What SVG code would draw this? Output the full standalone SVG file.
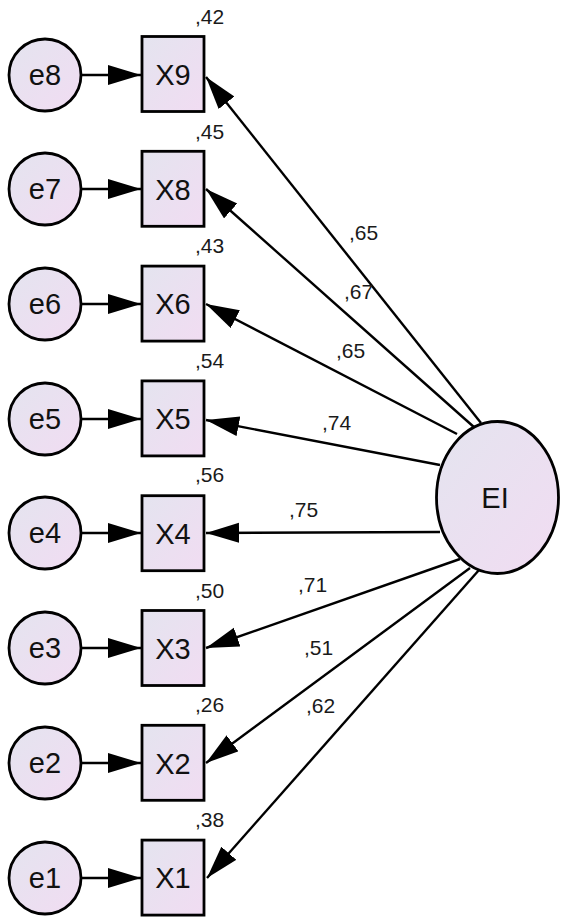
<svg xmlns="http://www.w3.org/2000/svg" width="567" height="923" viewBox="0 0 567 923">
  <defs>
    <linearGradient id="fillGrad" x1="0" y1="0" x2="1" y2="1">
      <stop offset="0" stop-color="#e4e4ef"/>
      <stop offset="1" stop-color="#f1dcf2"/>
    </linearGradient>
    <marker id="arrow" markerUnits="userSpaceOnUse" markerWidth="34" markerHeight="22" refX="33" refY="10" orient="auto">
      <path d="M0,0 L33,10 L0,20 Z" fill="#000"/>
    </marker>
  </defs>
  <style>
    .node { fill: url(#fillGrad); stroke: #000; stroke-width: 2.8; }
    .lbl { font-family: "Liberation Sans", Arial, sans-serif; font-size: 29px; fill: #111; text-anchor: middle; }
    .val { font-family: "Liberation Sans", Arial, sans-serif; font-size: 21px; fill: #1a1a1a; }
    .edge { stroke: #000; stroke-width: 2.4; fill: none; marker-end: url(#arrow); }
  </style>
  <rect width="567" height="923" fill="#fff"/>

  <!-- paths: errors to indicators, factor EI to indicators -->
  <g id="connectors">
    <line class="edge" x1="81" y1="75" x2="141" y2="75"/>
    <line class="edge" x1="81" y1="189" x2="141" y2="189"/>
    <line class="edge" x1="81" y1="304" x2="141" y2="304"/>
    <line class="edge" x1="81" y1="419" x2="141" y2="419"/>
    <line class="edge" x1="81" y1="533" x2="141" y2="533"/>
    <line class="edge" x1="81" y1="648" x2="141" y2="648"/>
    <line class="edge" x1="81" y1="763" x2="141" y2="763"/>
    <line class="edge" x1="81" y1="878" x2="141" y2="878"/>

    <line class="edge" x1="481" y1="423" x2="206" y2="77"/>
    <line class="edge" x1="475" y1="428" x2="206" y2="189"/>
    <line class="edge" x1="457" y1="434" x2="206" y2="304"/>
    <line class="edge" x1="440" y1="465" x2="206" y2="420"/>
    <line class="edge" x1="440" y1="532" x2="206" y2="533"/>
    <line class="edge" x1="460" y1="559" x2="206" y2="648"/>
    <line class="edge" x1="470" y1="568" x2="206" y2="763"/>
    <line class="edge" x1="479" y1="570" x2="207" y2="878"/>

    <text class="val" x="349" y="240">,65</text>
    <text class="val" x="344" y="299">,67</text>
    <text class="val" x="336" y="358">,65</text>
    <text class="val" x="322" y="430">,74</text>
    <text class="val" x="289" y="517">,75</text>
    <text class="val" x="298" y="592">,71</text>
    <text class="val" x="304" y="655">,51</text>
    <text class="val" x="306" y="713">,62</text>
  </g>

  <!-- error terms -->
  <g id="e8"><circle class="node" cx="45" cy="75" r="36"/><text class="lbl" x="45" y="85">e8</text></g>
  <g id="e7"><circle class="node" cx="45" cy="189" r="36"/><text class="lbl" x="45" y="199">e7</text></g>
  <g id="e6"><circle class="node" cx="45" cy="304" r="36"/><text class="lbl" x="45" y="314">e6</text></g>
  <g id="e5"><circle class="node" cx="45" cy="419" r="36"/><text class="lbl" x="45" y="429">e5</text></g>
  <g id="e4"><circle class="node" cx="45" cy="533" r="36"/><text class="lbl" x="45" y="543">e4</text></g>
  <g id="e3"><circle class="node" cx="45" cy="648" r="36"/><text class="lbl" x="45" y="658">e3</text></g>
  <g id="e2"><circle class="node" cx="45" cy="763" r="36"/><text class="lbl" x="45" y="773">e2</text></g>
  <g id="e1"><circle class="node" cx="45" cy="878" r="36"/><text class="lbl" x="45" y="888">e1</text></g>

  <!-- observed indicators with squared multiple correlations -->
  <g id="X9"><rect class="node" x="142" y="36.5" width="62" height="75"/><text class="lbl" x="173" y="85">X9</text><text class="val" x="195" y="24">,42</text></g>
  <g id="X8"><rect class="node" x="142" y="151.3" width="62" height="75"/><text class="lbl" x="173" y="200">X8</text><text class="val" x="195" y="138.5">,45</text></g>
  <g id="X6"><rect class="node" x="142" y="266.1" width="62" height="75"/><text class="lbl" x="173" y="314">X6</text><text class="val" x="195" y="253">,43</text></g>
  <g id="X5"><rect class="node" x="142" y="380.9" width="62" height="75"/><text class="lbl" x="173" y="429">X5</text><text class="val" x="195" y="368">,54</text></g>
  <g id="X4"><rect class="node" x="142" y="495.7" width="62" height="75"/><text class="lbl" x="173" y="544">X4</text><text class="val" x="195" y="482">,56</text></g>
  <g id="X3"><rect class="node" x="142" y="610.5" width="62" height="75"/><text class="lbl" x="173" y="659">X3</text><text class="val" x="195" y="597.5">,50</text></g>
  <g id="X2"><rect class="node" x="142" y="725.3" width="62" height="75"/><text class="lbl" x="173" y="774">X2</text><text class="val" x="195" y="712">,26</text></g>
  <g id="X1"><rect class="node" x="142" y="840.1" width="62" height="75"/><text class="lbl" x="173" y="888">X1</text><text class="val" x="195" y="827">,38</text></g>

  <!-- latent factor -->
  <g id="EI"><ellipse class="node" cx="497.5" cy="497.5" rx="61" ry="76"/><text class="lbl" x="495" y="508">EI</text></g>
</svg>
